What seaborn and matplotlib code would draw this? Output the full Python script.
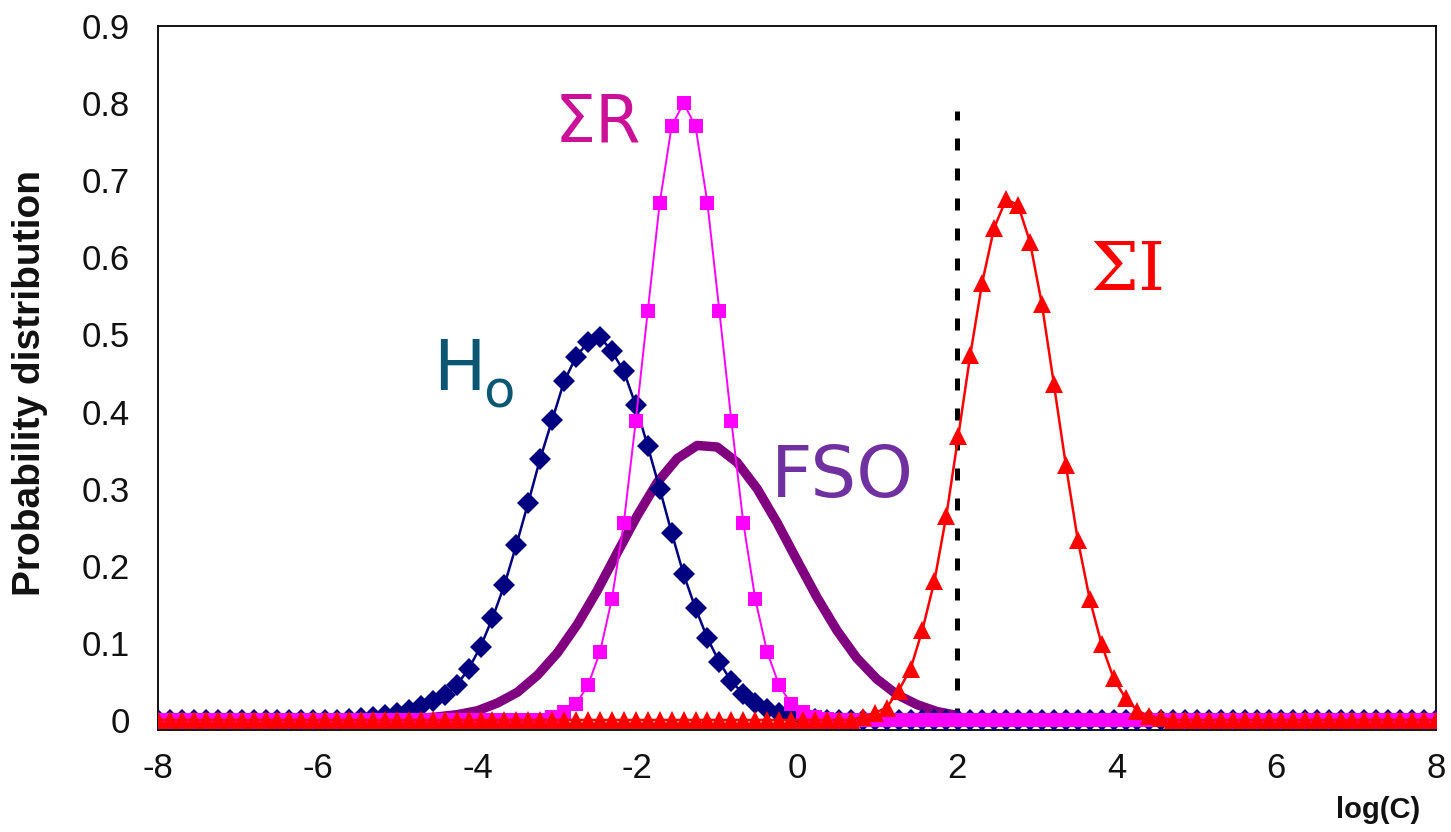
import numpy as np
import pandas as pd
import seaborn as sns
import matplotlib.pyplot as plt

# ---- data -------------------------------------------------------------
# common sampling grid of log(C) used by the three marked distributions
log_c = np.linspace(-8, 8, 108)

# initial hazard level H0
h0 = [0, 0, 0, 0, 0, 0, 0, 0, 0, 0,
      0, 0, 0, 0, 0, 0, 0.001, 0.002, 0.004, 0.006,
      0.009, 0.013, 0.018, 0.024, 0.032, 0.045, 0.066, 0.095, 0.132, 0.175,
      0.227, 0.282, 0.339, 0.389, 0.439, 0.471, 0.490, 0.497, 0.478, 0.452,
      0.408, 0.355, 0.300, 0.243, 0.189, 0.145, 0.106, 0.075, 0.050, 0.034,
      0.022, 0.014, 0.009, 0.005, 0.003, 0.001, 0, 0, 0, 0,
      0, 0, 0, 0, 0, 0, 0, 0, 0, 0,
      0, 0, 0, 0, 0, 0, 0, 0, 0, 0,
      0, 0, 0, 0, 0, 0, 0, 0, 0, 0,
      0, 0, 0, 0, 0, 0, 0, 0, 0, 0,
      0, 0, 0, 0, 0, 0, 0, 0]

# sum of reductions
sum_r = [0, 0, 0, 0, 0, 0, 0, 0, 0, 0,
         0, 0, 0, 0, 0, 0, 0, 0, 0, 0,
         0, 0, 0, 0, 0, 0, 0, 0, 0, 0,
         0, 0, 0, 0.004, 0.010, 0.021, 0.045, 0.088, 0.157, 0.256,
         0.388, 0.530, 0.670, 0.770, 0.800, 0.770, 0.670, 0.530, 0.388, 0.256,
         0.157, 0.088, 0.045, 0.021, 0.010, 0.004, 0.001, 0, 0, 0,
         0, 0, 0, 0, 0, 0, 0, 0, 0, 0,
         0, 0, 0, 0, 0, 0, 0, 0, 0, 0,
         0, 0, 0, 0, 0, 0, 0, 0, 0, 0,
         0, 0, 0, 0, 0, 0, 0, 0, 0, 0,
         0, 0, 0, 0, 0, 0, 0, 0]

# sum of increases
sum_i = [0, 0, 0, 0, 0, 0, 0, 0, 0, 0,
         0, 0, 0, 0, 0, 0, 0, 0, 0, 0,
         0, 0, 0, 0, 0, 0, 0, 0, 0, 0,
         0, 0, 0, 0, 0, 0, 0, 0, 0, 0,
         0, 0, 0, 0, 0, 0, 0, 0, 0, 0,
         0, 0, 0, 0, 0, 0, 0, 0, 0, 0.004,
         0.009, 0.016, 0.038, 0.066, 0.117, 0.180, 0.265, 0.368, 0.473, 0.567,
         0.638, 0.675, 0.668, 0.620, 0.539, 0.436, 0.331, 0.234, 0.157, 0.098,
         0.054, 0.028, 0.012, 0.005, 0.002, 0, 0, 0, 0, 0,
         0, 0, 0, 0, 0, 0, 0, 0, 0, 0,
         0, 0, 0, 0, 0, 0, 0, 0]

# food safety objective curve
fso_x = [-5.0, -4.75, -4.5, -4.25, -4.0, -3.75, -3.5, -3.25, -3.0, -2.75,
         -2.5, -2.25, -2.0, -1.75, -1.5, -1.25, -1.0, -0.75, -0.5, -0.25,
         0.0, 0.25, 0.5, 0.75, 1.0, 1.25, 1.5, 1.75, 2.0]
fso_y = [0.001, 0.002, 0.004, 0.007, 0.012, 0.022, 0.036, 0.058, 0.087, 0.124,
         0.168, 0.217, 0.265, 0.308, 0.339, 0.356, 0.354, 0.334, 0.300, 0.256,
         0.207, 0.159, 0.116, 0.080, 0.053, 0.033, 0.020, 0.011, 0.006]

# performance threshold
threshold_x = 2
threshold_top = 0.79

xtick_values = [-8, -6, -4, -2, 0, 2, 4, 6, 8]
xtick_labels = ["-8", "-6", "-4", "-2", "0", "2", "4", "6", "8"]
ytick_values = [0, 0.1, 0.2, 0.3, 0.4, 0.5, 0.6, 0.7, 0.8, 0.9]
ytick_labels = ["0", "0.1", "0.2", "0.3", "0.4", "0.5", "0.6", "0.7", "0.8", "0.9"]

marked = pd.DataFrame({"logC": log_c, "H0": h0, "SR": sum_r, "SI": sum_i})
fso = pd.DataFrame({"logC": fso_x, "p": fso_y})

# ---- figure -----------------------------------------------------------
sns.set_style("white")
plt.rcParams["font.family"] = ["Liberation Sans", "DejaVu Sans"]

fig = plt.figure(figsize=(14.51, 8.32), dpi=100)
ax = fig.add_axes([0.1089, 0.1226, 0.8808, 0.8462])

ax.vlines(threshold_x, 0, threshold_top, colors="black", linewidth=3.6,
          linestyles=(0, (2.4, 3.6)), zorder=1.5)

sns.lineplot(data=fso, x="logC", y="p", ax=ax, color="#800080",
             linewidth=6.8, zorder=2)
sns.lineplot(data=marked, x="logC", y="H0", ax=ax, color="#000080",
             linewidth=1.8, marker="D", markersize=11, markeredgewidth=0,
             zorder=3)
sns.lineplot(data=marked, x="logC", y="SR", ax=ax, color="#FF00FF",
             linewidth=1.4, marker="s", markersize=9.5, markeredgewidth=0,
             zorder=4)
sns.lineplot(data=marked, x="logC", y="SI", ax=ax, color="#FF0000",
             linewidth=1.8, marker="^", markersize=13, markeredgewidth=0,
             zorder=5)

ax.set_xlim(-8, 8)
ax.set_ylim(-0.013, 0.9)
ax.set_xticks(xtick_values)
ax.set_xticklabels(xtick_labels)
ax.set_yticks(ytick_values)
ax.set_yticklabels(ytick_labels)
ax.set_xlabel("")
ax.set_ylabel("")
ax.tick_params(axis="both", direction="out", length=7, width=1.3,
               labelsize=25, colors="black", labelcolor="#111111")
ax.tick_params(axis="y", pad=13)
ax.tick_params(axis="x", pad=9)
for side in ["left", "right", "top", "bottom"]:
    ax.spines[side].set_visible(True)
    ax.spines[side].set_color("black")
    ax.spines[side].set_linewidth(1.3)

# curve annotations
ax.text(-3.04, 0.75, "\u03a3R", color="#CC1199", fontsize=47,
        family=["DejaVu Sans"], ha="left", va="baseline")
ax.text(-4.56, 0.428, "H", color="#0B5773", fontsize=50,
        family=["DejaVu Sans"], ha="left", va="baseline")
ax.text(-3.93, 0.405, "o", color="#0B5773", fontsize=37,
        family=["DejaVu Sans"], ha="left", va="baseline")
ax.text(-0.33, 0.289, "FSO", color="#7030A0", fontsize=52,
        family=["DejaVu Sans"], ha="left", va="baseline")
ax.text(3.67, 0.558, "\u03a3I", color="#FF0000", fontsize=49,
        family=["DejaVu Serif"], ha="left", va="baseline")

fig.text(0.0207, 0.54, "Probability distribution", rotation=90,
         fontsize=28, fontweight="bold", ha="center", va="center",
         color="#111111")
fig.text(0.9786, 0.0264, "log(C)", fontsize=21, fontweight="bold",
         ha="right", va="center", color="#111111")

fig.savefig("out.png", dpi=100)
